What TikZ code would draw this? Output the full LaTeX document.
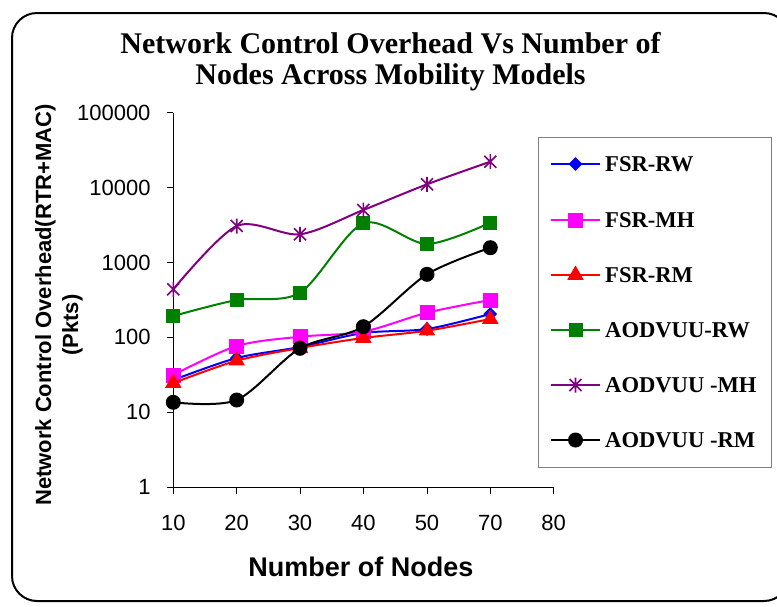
\documentclass[tikz,border=0pt]{standalone}
\usepackage{fontspec}
\setmainfont{Liberation Serif}
\newfontfamily\arialf{Liberation Sans}
\usetikzlibrary{shapes.geometric}
\definecolor{cblue}{HTML}{0000FF}
\definecolor{cmag}{HTML}{FF00FF}
\definecolor{cred}{HTML}{FF0000}
\definecolor{cgreen}{HTML}{008000}
\definecolor{cpurp}{HTML}{800080}
\definecolor{cgray}{HTML}{808080}
\tikzset{
  astar/.pic={\draw[cpurp,line width=1.6pt] (-6,-6)--(6,6) (-6,6)--(6,-6) (0,-7.5)--(0,7.5);},
  ser/.style={line width=2pt, line join=round},
  mdia/.style={diamond, fill=cblue, inner sep=0pt, minimum size=14pt},
  mmsq/.style={rectangle, fill=cmag, inner sep=0pt, minimum size=15pt},
  mtri/.style={regular polygon, regular polygon sides=3, fill=cred, inner sep=0pt, minimum size=19pt},
  mgsq/.style={rectangle, fill=cgreen, inner sep=0pt, minimum size=14pt},
  mcirc/.style={circle, fill=black, inner sep=0pt, minimum size=15pt},
  ticklab/.style={font=\arialf\fontsize{22}{22}\selectfont, inner sep=0pt},
  legtxt/.style={font=\bfseries\fontsize{22.6}{22.6}\selectfont, inner sep=0pt, anchor=base west},
  titletxt/.style={font=\bfseries\fontsize{30}{30}\selectfont, inner sep=0pt, anchor=base},
  axtitle/.style={font=\arialf\bfseries\fontsize{22}{22}\selectfont, inner sep=0pt, anchor=base, rotate=90},
}
\begin{document}
\begin{tikzpicture}[x=1pt,y=-1pt]
\useasboundingbox (0,0) rectangle (777,606);
% frame
\node[draw=black, line width=2pt, rounded corners=25pt, minimum width=777pt, minimum height=588pt, anchor=north west, inner sep=0pt] (frame) at (11,12) {};
% title
\node[titletxt] (t1) at (390.5,53.3) {Network Control Overhead Vs Number of};
\node[titletxt] (t2) at (390.5,84.3) {Nodes Across Mobility Models};
% axes
\coordinate (ytop) at (173.3,112.7);
\coordinate (orig) at (173.3,487.3);
\coordinate (xend) at (553.7,487.3);
\draw[line width=1pt] (ytop) -- (orig) -- (xend);
\foreach \v/\lab [count=\i] in {112.7/100000,187.6/10000,262.5/1000,337.4/100,412.3/10,487.3/1}{
  \coordinate (yt\i) at (166.7,\v);
  \coordinate (ya\i) at (173.3,\v);
  \draw[line width=1pt] (yt\i) -- (ya\i);
  \node[ticklab, anchor=east] (yl\i) at (150.7,\v) {\lab};
}
\foreach \u/\lab [count=\i] in {173.3/10,236.7/20,300/30,363.3/40,427/50,490.3/70,553.7/80}{
  \coordinate (xa\i) at (\u,487.3);
  \coordinate (xt\i) at (\u,493.8);
  \draw[line width=1pt] (xa\i) -- (xt\i);
  \node[ticklab, anchor=base] (xl\i) at (\u,530.7) {\lab};
}
% axis titles
\node[font=\arialf\bfseries\fontsize{27}{27}\selectfont, inner sep=0pt, anchor=base] (xtitle) at (361,576) {Number of Nodes};
\node[axtitle] (ytitle1) at (51,305) {Network Control Overhead(RTR+MAC)};
\node[axtitle] (ytitle2) at (78,325) {(Pkts)};
% data coordinates
\foreach \s/\a/\b/\c/\d/\e/\f in {
  rw/380/358/347/333/329/314,
  mh/375/346/336.7/331.7/312.7/300,
  rm/383/360.7/348/338/330.7/319,
  arw/316/300/292.7/223.3/244/222.7,
  amh/289.3/226/234.3/210/184.3/161.7,
  arm/402.3/400/348.3/326.7/274.3/247.7}{
  \coordinate (\s1) at (173.3,\a);
  \coordinate (\s2) at (236.7,\b);
  \coordinate (\s3) at (300,\c);
  \coordinate (\s4) at (363.3,\d);
  \coordinate (\s5) at (427,\e);
  \coordinate (\s6) at (490.3,\f);
}
% FSR-RW
\draw[ser, cblue] plot[smooth, tension=0.5] coordinates {(rw1) (rw2) (rw3) (rw4) (rw5) (rw6)};
\foreach \i in {1,...,6} \node[mdia] (mrw\i) at (rw\i) {};
% FSR-MH
\draw[ser, cmag] plot[smooth, tension=0.5] coordinates {(mh1) (mh2) (mh3) (mh4) (mh5) (mh6)};
\foreach \i in {1,...,6} \node[mmsq] (mmh\i) at (mh\i) {};
% FSR-RM
\draw[ser, cred] plot[smooth, tension=0.5] coordinates {(rm1) (rm2) (rm3) (rm4) (rm5) (rm6)};
\foreach \i in {1,...,6} \node[mtri] (mrm\i) at (rm\i) {};
% AODVUU-RW
\draw[ser, cgreen] plot[smooth, tension=0.5] coordinates {(arw1) (arw2) (arw3) (arw4) (arw5) (arw6)};
\foreach \i in {1,...,6} \node[mgsq] (marw\i) at (arw\i) {};
% AODVUU-MH
\draw[ser, cpurp] plot[smooth, tension=0.5] coordinates {(amh1) (amh2) (amh3) (amh4) (amh5) (amh6)};
\foreach \i in {1,...,6} \pic (pamh\i) at (amh\i) {astar};
% AODVUU-RM
\draw[ser, black] plot[smooth, tension=0.5] coordinates {(arm1) (arm2) (arm3) (arm4) (arm5) (arm6)};
\foreach \i in {1,...,6} \node[mcirc] (marm\i) at (arm\i) {};
% legend
\node[draw=cgray, line width=1pt, minimum width=233pt, minimum height=330pt, anchor=north west, inner sep=0pt] (legend) at (538,137) {};
\foreach \y/\col/\txt [count=\i] in {164/cblue/FSR-RW,220/cmag/FSR-MH,275/cred/FSR-RM,330/cgreen/AODVUU-RW,385/cpurp/AODVUU -MH,440/black/AODVUU -RM}{
  \coordinate (la\i) at (551,\y);
  \coordinate (lb\i) at (600,\y);
  \coordinate (lm\i) at (575.5,\y);
  \draw[ser, \col] (la\i) -- (lb\i);
  \node[legtxt] (lt\i) at (605,\y+7.5) {\txt};
}
\node[mdia] (lk1) at (lm1) {};
\node[mmsq] (lk2) at (lm2) {};
\node[mtri] (lk3) at (lm3) {};
\node[mgsq] (lk4) at (lm4) {};
\pic (lk5) at (lm5) {astar};
\node[mcirc] (lk6) at (lm6) {};
\end{tikzpicture}
\end{document}
